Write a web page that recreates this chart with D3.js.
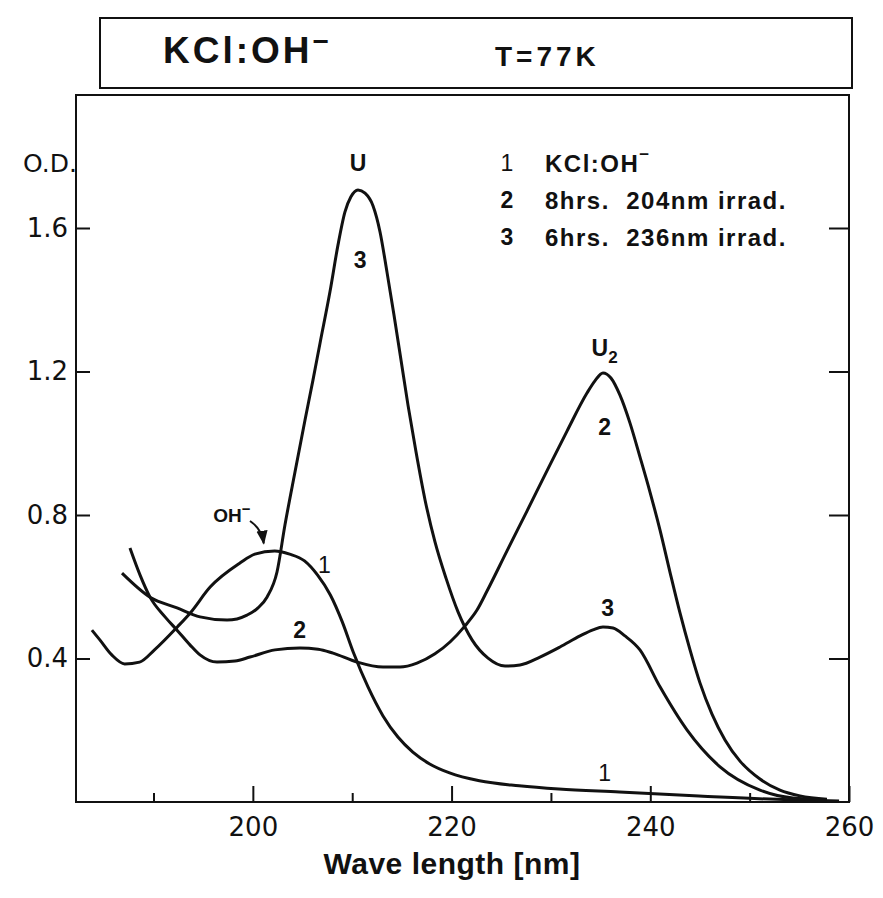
<!DOCTYPE html>
<html>
<head>
<meta charset="utf-8">
<script src="https://cdnjs.cloudflare.com/ajax/libs/d3/7.8.5/d3.min.js"></script>
<style>
  body { margin: 0; background: #fff; }
  text { font-family: "DejaVu Sans", sans-serif; fill: #111; }
</style>
</head>
<body>
<svg id="chart" width="883" height="898"></svg>
<script>
// curve 1 : KCl:OH- as grown
var curve1Nm = [183.8, 184.6, 185.8, 187.1, 188.6, 190.1, 192.4, 193.7, 195.7, 198.7, 200.2, 202.2, 203.7, 205.2, 206.5, 207.8, 209.0, 210.1, 211.6, 213.1, 214.6, 216.1, 217.8, 219.8, 222.8, 226.8, 230.8, 236.9, 244.9, 254.0, 259.0];
var curve1Od = [0.479, 0.452, 0.410, 0.385, 0.390, 0.424, 0.488, 0.527, 0.599, 0.666, 0.691, 0.700, 0.691, 0.672, 0.633, 0.577, 0.502, 0.418, 0.320, 0.240, 0.181, 0.139, 0.106, 0.081, 0.059, 0.045, 0.036, 0.028, 0.017, 0.006, 0.003];

// curve 2 : 8hrs 204nm irradiation
var curve2Nm = [187.63, 188.64, 189.65, 191.16, 192.37, 193.67, 194.68, 196.39, 198.20, 199.71, 202.23, 204.74, 206.56, 208.07, 210.48, 213.10, 214.81, 216.52, 218.33, 219.84, 221.35, 222.56, 223.57, 225.58, 227.59, 229.60, 231.62, 233.63, 234.43, 235.24, 236.04, 236.95, 237.96, 238.96, 239.97, 240.98, 241.98, 242.99, 244.00, 245.00, 246.21, 247.52, 249.03, 251.04, 253.05, 255.07, 257.78];
var curve2Od = [0.708, 0.633, 0.571, 0.516, 0.479, 0.438, 0.410, 0.390, 0.393, 0.404, 0.424, 0.429, 0.426, 0.415, 0.390, 0.376, 0.376, 0.387, 0.413, 0.446, 0.491, 0.535, 0.588, 0.700, 0.811, 0.923, 1.034, 1.140, 1.174, 1.196, 1.182, 1.134, 1.056, 0.962, 0.864, 0.758, 0.641, 0.527, 0.424, 0.332, 0.245, 0.173, 0.114, 0.064, 0.033, 0.017, 0.008];

// curve 3 : 6hrs 236nm irradiation
var curve3Nm = [186.83, 189.65, 192.37, 194.68, 197.40, 199.41, 200.52, 201.42, 202.43, 203.23, 204.24, 205.25, 206.05, 206.76, 207.76, 208.57, 209.27, 209.87, 210.58, 211.29, 212.09, 212.80, 213.50, 214.20, 214.91, 215.61, 216.42, 217.33, 218.33, 219.44, 220.65, 222.06, 223.67, 225.38, 226.89, 228.90, 230.91, 232.93, 234.23, 235.24, 236.25, 237.45, 238.96, 240.98, 243.69, 247.02, 251.04, 254.36, 257.78];
var curve3Od = [0.638, 0.571, 0.541, 0.516, 0.507, 0.521, 0.541, 0.571, 0.641, 0.772, 0.920, 1.065, 1.176, 1.279, 1.422, 1.553, 1.645, 1.687, 1.706, 1.697, 1.662, 1.589, 1.477, 1.358, 1.232, 1.107, 0.976, 0.842, 0.725, 0.624, 0.530, 0.452, 0.401, 0.379, 0.382, 0.404, 0.432, 0.463, 0.480, 0.488, 0.485, 0.463, 0.424, 0.321, 0.201, 0.098, 0.033, 0.011, 0.006];

var yTicks = [0.4, 0.8, 1.2, 1.6];
var xTicks = [200, 220, 240, 260];
var xMinorTicks = [190, 210, 230, 250];

var legendNums = ["1", "2", "3"];
var legendTexts = ["KCl:OH", "8hrs.  204nm irrad.", "6hrs.  236nm irrad."];

// curve labels, placed in data units
var labelTexts = ["U", "3", "U", "2", "3", "1", "2", "1"];
var labelNm = [210.6, 210.8, 235.4, 235.4, 235.7, 235.4, 204.7, 207.2];
var labelOd = [1.781, 1.511, 1.265, 1.045, 0.541, 0.081, 0.479, 0.661];
var ohLabelNm = 197.9, ohLabelOd = 0.80;
var ohPeakNm = 201.7, ohPeakOd = 0.71;

var svg = d3.select("#chart");
var frame = {left: 76, top: 95, right: 849, bottom: 802};
var boldFont = "Liberation Sans, Arial, sans-serif";

var x = d3.scaleLinear().domain([182.2, 260]).range([frame.left, frame.right]);
var y = d3.scaleLinear().domain([0, 1.6]).range([frame.bottom, 228]);

// header box
svg.append("rect")
  .attr("x", 100).attr("y", 18).attr("width", 752).attr("height", 70)
  .attr("fill", "none").attr("stroke", "#111").attr("stroke-width", 2);
var h1 = svg.append("text").attr("x", 163).attr("y", 63)
  .style("font-family", boldFont)
  .style("font-weight", "bold").style("font-size", "37px").style("letter-spacing", "3px")
  .text("KCl:OH");
h1.append("tspan").attr("dy", -12).style("font-size", "28px").text("\u2212");
svg.append("text").attr("x", 495).attr("y", 66)
  .style("font-family", boldFont)
  .style("font-weight", "bold").style("font-size", "28px").style("letter-spacing", "4px")
  .text("T=77K");

// plot frame
svg.append("rect")
  .attr("x", frame.left).attr("y", frame.top)
  .attr("width", frame.right - frame.left).attr("height", frame.bottom - frame.top)
  .attr("fill", "none").attr("stroke", "#111").attr("stroke-width", 2);

var yAxisG = svg.append("g").attr("transform", "translate(" + frame.left + ",0)")
  .call(d3.axisLeft(y).tickValues(yTicks).tickSize(-14).tickSizeOuter(0).tickPadding(8).tickFormat(d3.format(".1f")));
var yAxisR = svg.append("g").attr("transform", "translate(" + frame.right + ",0)")
  .call(d3.axisRight(y).tickValues(yTicks).tickSize(-20).tickSizeOuter(0).tickFormat(""));
var xAxisG = svg.append("g").attr("transform", "translate(0," + frame.bottom + ")")
  .call(d3.axisBottom(x).tickValues(xTicks).tickSize(-16).tickSizeOuter(0).tickPadding(16).tickFormat(d3.format("d")));
var xMinorG = svg.append("g").attr("transform", "translate(0," + frame.bottom + ")")
  .call(d3.axisBottom(x).tickValues(xMinorTicks).tickSize(-9).tickSizeOuter(0).tickFormat(""));

[yAxisG, yAxisR, xAxisG, xMinorG].forEach(function(g){
  g.select(".domain").remove();
  g.selectAll(".tick line").attr("stroke", "#111").attr("stroke-width", 2);
  g.selectAll(".tick text").style("font-size", "26px").style("font-family", "DejaVu Sans, sans-serif").attr("fill", "#111");
});

svg.append("text").attr("x", 50).attr("y", 172).attr("text-anchor", "middle")
  .style("font-size", "25px")
  .text("O.D.");

svg.append("text").attr("x", 452).attr("y", 874).attr("text-anchor", "middle")
  .style("font-family", boldFont)
  .style("font-weight", "bold").style("font-size", "30px").style("letter-spacing", "0.5px")
  .text("Wave length [nm]");

// curves
var line = d3.line()
  .x(function(d){ return x(d[0]); })
  .y(function(d){ return y(d[1]); })
  .curve(d3.curveMonotoneX);

[[curve1Nm, curve1Od], [curve2Nm, curve2Od], [curve3Nm, curve3Od]].forEach(function(c){
  var pts = d3.zip(c[0], c[1]);
  svg.append("path")
    .attr("d", line(pts))
    .attr("fill", "none")
    .attr("stroke", "#111")
    .attr("stroke-width", 3)
    .attr("stroke-linejoin", "round");
});

// curve labels
labelTexts.forEach(function(t, i){
  var lt = svg.append("text")
    .attr("x", x(labelNm[i])).attr("y", y(labelOd[i]))
    .attr("text-anchor", "middle").attr("dominant-baseline", "central")
    .style("font-family", boldFont)
    .style("font-weight", t == "1" ? "normal" : "bold").style("font-size", "23px")
    .text(t);
  if (i == 2) lt.append("tspan").attr("dy", 9).style("font-size", "17px").text("2");
});

// OH- label with arrow
var oh = svg.append("text")
  .attr("x", x(ohLabelNm)).attr("y", y(ohLabelOd))
  .attr("text-anchor", "middle").attr("dominant-baseline", "central")
  .style("font-family", boldFont)
  .style("font-weight", "bold").style("font-size", "19px")
  .text("OH");
oh.append("tspan").attr("dy", -7).style("font-size", "15px").text("\u2212");

svg.append("defs").append("marker")
  .attr("id", "arr").attr("viewBox", "0 0 10 10").attr("refX", 9).attr("refY", 5)
  .attr("markerWidth", 7).attr("markerHeight", 7).attr("orient", "auto")
  .append("path").attr("d", "M0,1 L10,5 L0,9 Z").attr("fill", "#111");

var ax0 = x(ohLabelNm) + 18, ay0 = y(ohLabelOd) + 6;
var ax1 = x(ohPeakNm) - 6, ay1 = y(ohPeakOd) - 4;
svg.append("path")
  .attr("d", "M" + ax0 + "," + ay0 + " Q" + (ax1 - 2) + "," + (ay0 + 8) + " " + ax1 + "," + ay1)
  .attr("fill", "none").attr("stroke", "#111").attr("stroke-width", 2)
  .attr("marker-end", "url(#arr)");

// legend
var legend = svg.append("g").attr("transform", "translate(507,163)");
legendNums.forEach(function(n, i){
  var row = legend.append("g").attr("transform", "translate(0," + (i * 37) + ")");
  row.append("text").attr("text-anchor", "middle").attr("dominant-baseline", "central")
    .style("font-family", boldFont)
    .style("font-weight", n == "1" ? "normal" : "bold").style("font-size", "23px")
    .text(n);
  var t = row.append("text").attr("x", 38).attr("dominant-baseline", "central")
    .style("font-family", boldFont)
    .style("font-weight", "bold").style("font-size", "24px").style("letter-spacing", "1.5px")
    .style("white-space", "pre")
    .text(legendTexts[i]);
  if (i == 0) t.append("tspan").attr("dy", -9).style("font-size", "17px").text("\u2212");
});
</script>
</body>
</html>
